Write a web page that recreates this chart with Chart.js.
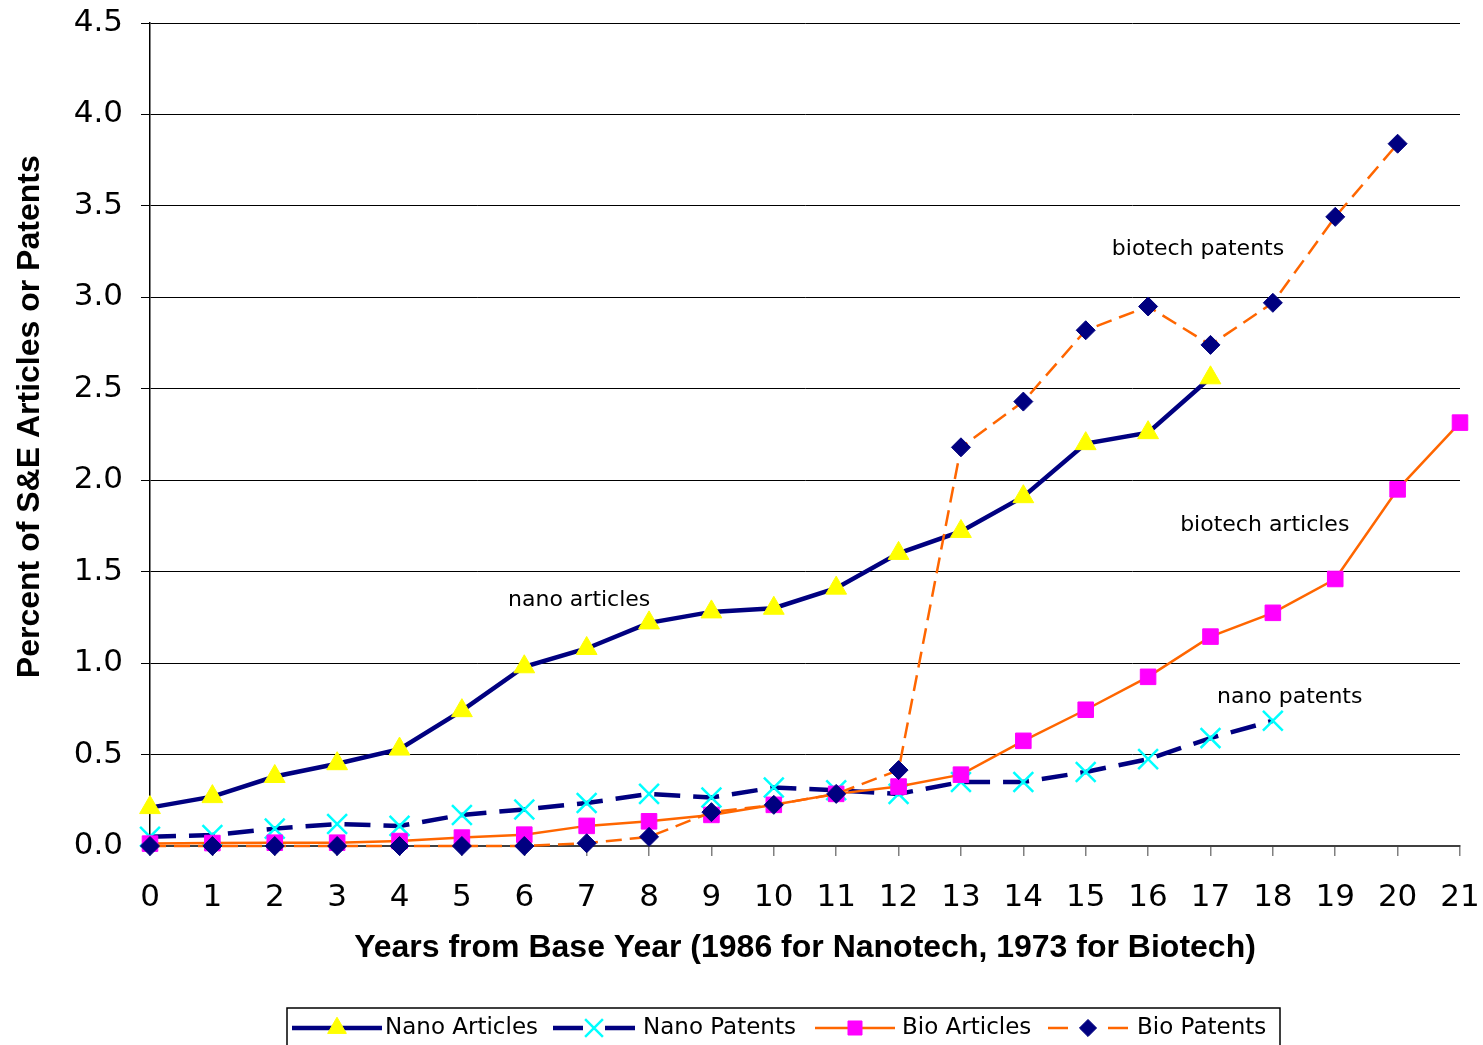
<!DOCTYPE html>
<html>
<head>
<meta charset="utf-8">
<script src="https://cdn.jsdelivr.net/npm/chart.js@4.4.0/dist/chart.umd.min.js"></script>
<style>
  html, body { margin: 0; padding: 0; background: #ffffff; }
  #wrap { width: 1483px; height: 1045px; }
</style>
</head>
<body>
<div id="wrap"><canvas id="c" width="1483" height="1045"></canvas></div>
<script>
// ---- data ----
const years = ["0","1","2","3","4","5","6","7","8","9","10","11","12","13","14","15","16","17","18","19","20","21"];
const nanoArticles = [0.21, 0.27, 0.38, 0.45, 0.53, 0.74, 0.98, 1.08, 1.22, 1.28, 1.30, 1.41, 1.60, 1.72, 1.91, 2.20, 2.26, 2.56, null, null, null, null];
const nanoPatents  = [0.05, 0.06, 0.095, 0.12, 0.11, 0.17, 0.20, 0.235, 0.285, 0.265, 0.32, 0.305, 0.285, 0.35, 0.35, 0.405, 0.475, 0.59, 0.685, null, null, null];
const bioArticles  = [0.013, 0.016, 0.018, 0.018, 0.027, 0.046, 0.062, 0.11, 0.135, 0.17, 0.225, 0.285, 0.325, 0.39, 0.575, 0.745, 0.925, 1.145, 1.275, 1.46, 1.95, 2.315];
const bioPatents   = [0.0, 0.0, 0.0, 0.0, 0.0, 0.0, 0.0, 0.015, 0.05, 0.185, 0.225, 0.285, 0.415, 2.18, 2.43, 2.82, 2.95, 2.74, 2.97, 3.44, 3.84, null];
const seriesNames = ["Nano Articles", "Nano Patents", "Bio Articles", "Bio Patents"];
const yTickValues = [0, 0.5, 1.0, 1.5, 2.0, 2.5, 3.0, 3.5, 4.0, 4.5];
const annotations = [
  { text: "nano articles",    x: 6.88,  y: 1.345 },
  { text: "biotech patents",  x: 16.8,  y: 3.264 },
  { text: "biotech articles", x: 17.87, y: 1.755 },
  { text: "nano patents",     x: 18.27, y: 0.815 }
];
const axisTitleX = "Years from Base Year (1986 for Nanotech, 1973 for Biotech)";
const axisTitleY = "Percent of S&E Articles or Patents";

// ---- styles ----
const NAVY = '#000080', ORANGE = '#FF6600';
const TICK_FONT = { family: 'DejaVu Sans', size: 31 };

const annotationPlugin = {
  id: 'annot',
  afterDatasetsDraw(chart) {
    const { ctx, scales } = chart;
    ctx.save();
    ctx.font = '22px "DejaVu Sans"';
    ctx.fillStyle = '#000';
    ctx.textAlign = 'center';
    ctx.textBaseline = 'middle';
    annotations.forEach(a => {
      ctx.fillText(a.text, scales.x.getPixelForValue(a.x), scales.y.getPixelForValue(a.y));
    });
    ctx.restore();
  }
};

const legendPlugin = {
  id: 'boxLegend',
  afterDraw(chart) {
    const { ctx } = chart;
    const box = { left: 287, top: 1008, right: 1280, bottom: 1050 };
    const items = [
      { lineStart: 292, lineEnd: 382, textX: 385 },
      { lineStart: 553, lineEnd: 635, textX: 643 },
      { lineStart: 815, lineEnd: 895, textX: 902 },
      { lineStart: 1048, lineEnd: 1128, textX: 1137 }
    ];
    const cy = 1028;
    ctx.save();
    ctx.fillStyle = '#fff';
    ctx.fillRect(box.left, box.top, box.right - box.left, box.bottom - box.top);
    ctx.strokeStyle = '#000';
    ctx.lineWidth = 1.5;
    ctx.strokeRect(box.left, box.top, box.right - box.left, box.bottom - box.top);
    chart.data.datasets.forEach((ds, i) => {
      const it = items[i];
      ctx.save();
      ctx.strokeStyle = ds.borderColor;
      ctx.lineWidth = ds.borderWidth;
      ctx.setLineDash(ds.legendDash || []);
      ctx.beginPath();
      ctx.moveTo(it.lineStart, cy);
      ctx.lineTo(it.lineEnd, cy);
      ctx.stroke();
      ctx.restore();
      ctx.save();
      ctx.fillStyle = ds.pointBackgroundColor;
      ctx.strokeStyle = ds.pointBorderColor;
      ctx.lineWidth = ds.pointBorderWidth;
      ctx.setLineDash([]);
      Chart.helpers.drawPoint(ctx, {
        pointStyle: ds.pointStyle,
        radius: ds.pointRadius * 0.9,
        borderWidth: ds.pointBorderWidth,
        rotation: 0
      }, (it.lineStart + it.lineEnd) / 2, cy);
      ctx.restore();
      ctx.font = '23px "DejaVu Sans"';
      ctx.fillStyle = '#000';
      ctx.textAlign = 'left';
      ctx.textBaseline = 'middle';
      ctx.fillText(seriesNames[i], it.textX, cy);
    });
    ctx.restore();
  }
};

const datasets = [
  {
    label: seriesNames[0], data: nanoArticles, order: 4,
    borderColor: NAVY, borderWidth: 4.5, borderDash: [],
    pointStyle: 'triangle', pointRadius: 12, pointHoverRadius: 12,
    pointBackgroundColor: '#FFFF00', pointBorderColor: '#FFFF00', pointBorderWidth: 1,
    legendDash: []
  },
  {
    label: seriesNames[1], data: nanoPatents, order: 3,
    borderColor: NAVY, borderWidth: 4.5, borderDash: [26, 13],
    pointStyle: 'crossRot', pointRadius: 14, pointHoverRadius: 14,
    pointBackgroundColor: '#00FFFF', pointBorderColor: '#00FFFF', pointBorderWidth: 2.5,
    legendDash: [30, 22]
  },
  {
    label: seriesNames[2], data: bioArticles, order: 2,
    borderColor: ORANGE, borderWidth: 2.5, borderDash: [],
    pointStyle: 'rect', pointRadius: 11, pointHoverRadius: 11,
    pointBackgroundColor: '#FF00FF', pointBorderColor: '#FF00FF', pointBorderWidth: 1,
    legendDash: []
  },
  {
    label: seriesNames[3], data: bioPatents, order: 1,
    borderColor: ORANGE, borderWidth: 2.5, borderDash: [16, 8],
    pointStyle: 'rectRot', pointRadius: 9.5, pointHoverRadius: 9.5,
    pointBackgroundColor: NAVY, pointBorderColor: NAVY, pointBorderWidth: 1,
    legendDash: [20, 40]
  }
].map(d => Object.assign(d, { fill: false, tension: 0, clip: false, spanGaps: false }));

new Chart(document.getElementById('c'), {
  type: 'line',
  data: { labels: years, datasets: datasets },
  options: {
    responsive: false,
    animation: false,
    events: [],
    layout: { padding: { top: 23, right: 23, bottom: 0, left: 0 } },
    plugins: { legend: { display: false }, tooltip: { enabled: false }, title: { display: false } },
    scales: {
      x: {
        type: 'category',
        offset: false,
        grid: { drawOnChartArea: false, drawTicks: true, tickLength: 10, color: '#808080', lineWidth: 1.5 },
        border: { color: '#404040', width: 2 },
        ticks: { font: TICK_FONT, color: '#000', padding: 23, maxRotation: 0, autoSkip: false },
        title: { display: true, text: axisTitleX, color: '#000',
                 font: { family: 'Liberation Sans', size: 32, weight: 'bold' },
                 padding: { top: 0, bottom: 78 } },
        afterFit(scale) {
          scale.height = 199;
          scale.paddingLeft = 0; scale.paddingRight = 0;
          scale.paddingTop = 0; scale.paddingBottom = 0;
        }
      },
      y: {
        type: 'linear',
        min: 0, max: 4.5,
        afterBuildTicks(scale) { scale.ticks = yTickValues.map(v => ({ value: v })); },
        grid: { color: '#000', lineWidth: 1, tickLength: 9, drawTicks: true },
        border: { color: '#000', width: 1.5 },
        ticks: { font: TICK_FONT, color: '#000', padding: 18, callback: v => Number(v).toFixed(1) },
        title: { display: true, text: '    ' + axisTitleY, color: '#000',
                 font: { family: 'Liberation Sans', size: 32, weight: 'bold' },
                 padding: { top: 11, bottom: 0 } },
        afterFit(scale) {
          scale.width = 150;
          scale.paddingLeft = 0; scale.paddingRight = 0;
          scale.paddingTop = 0; scale.paddingBottom = 0;
        }
      }
    }
  },
  plugins: [annotationPlugin, legendPlugin]
});
</script>
</body>
</html>
